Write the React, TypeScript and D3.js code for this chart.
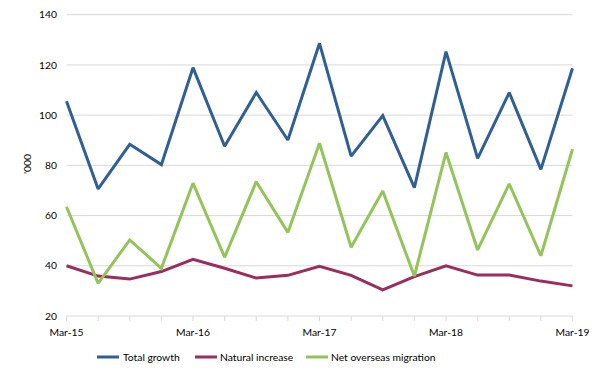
import React from "react";
import * as d3 from "d3";

const categories = ["Mar-15","Jun-15","Sep-15","Dec-15","Mar-16","Jun-16","Sep-16","Dec-16","Mar-17","Jun-17","Sep-17","Dec-17","Mar-18","Jun-18","Sep-18","Dec-18","Mar-19"];
const totalGrowth = [105.5, 70.6, 88.4, 80.3, 118.9, 87.6, 109, 90.1, 128.6, 83.7, 99.8, 71.1, 125.3, 82.8, 109, 78.4, 118.7];
const naturalIncrease = [40, 35.9, 34.7, 37.7, 42.6, 39, 35.1, 36.2, 39.8, 36.2, 30.4, 35.7, 40, 36.3, 36.3, 33.9, 32];
const netOverseas = [63.5, 33, 50.3, 39, 72.9, 43.4, 73.5, 53.3, 88.8, 47.4, 69.8, 35.9, 85.1, 46.3, 72.6, 44, 86.4];
const yTicks = [20, 40, 60, 80, 100, 120, 140];
const xLabels = ["Mar-15", "Mar-16", "Mar-17", "Mar-18", "Mar-19"];

const series = [
  { name: "Total growth", values: totalGrowth, color: "#2f5f95" },
  { name: "Natural increase", values: naturalIncrease, color: "#9b2d5e" },
  { name: "Net overseas migration", values: netOverseas, color: "#93c45a" },
];

export default function App() {
  const W = 605, H = 378;
  const left = 66.5, right = 572.5, top = 14.7, bottom = 316;
  const x = d3.scalePoint<string>().domain(categories).range([left, right]);
  const y = d3.scaleLinear().domain([20, 140]).range([bottom, top]);
  const line = (vals: number[]) =>
    d3.line<number>().x((_, i) => x(categories[i])!).y((v) => y(v))(vals) || "";
  const font = "Lato, 'Liberation Sans', sans-serif";
  const fs = 10.3;
  const legendItems = [
    { x0: 97, tx: 123 },
    { x0: 195, tx: 220 },
    { x0: 306, tx: 331 },
  ];
  return (
    <svg width={W} height={H} style={{ position: "absolute", left: 0, top: 0, background: "#fff" }} fontFamily={font}>
      {yTicks.map((t) => (
        <g key={t}>
          {t !== 20 && <line x1={left} x2={right} y1={y(t)} y2={y(t)} stroke="#d9d9d9" strokeWidth={1} />}
          <text x={57} y={y(t)} dy="0.35em" textAnchor="end" fontSize={fs} fill="#000">{t}</text>
        </g>
      ))}
      <line x1={left} x2={right} y1={bottom} y2={bottom} stroke="#d9d9d9" strokeWidth={1} />
      {categories.map((c) => (
        <line key={c} x1={x(c)} x2={x(c)} y1={bottom} y2={bottom + 5} stroke="#d9d9d9" strokeWidth={1} />
      ))}
      {xLabels.map((c) => (
        <text key={c} x={x(c)} y={332} dy="0.35em" textAnchor="middle" fontSize={fs} fill="#000">{c}</text>
      ))}
      <text transform={`translate(27,164) rotate(-90)`} textAnchor="middle" dy="0.35em" fontSize={fs} fill="#000">'000</text>
      {series.map((s) => (
        <path key={s.name} d={line(s.values)} fill="none" stroke={s.color} strokeWidth={3} strokeLinejoin="miter" strokeMiterlimit={2} />
      ))}
      {series.map((s, i) => (
        <g key={s.name}>
          <line x1={legendItems[i].x0} x2={legendItems[i].x0 + 22} y1={357} y2={357} stroke={s.color} strokeWidth={3} />
          <text x={legendItems[i].tx} y={357} dy="0.35em" fontSize={fs} fill="#000">{s.name}</text>
        </g>
      ))}
    </svg>
  );
}
